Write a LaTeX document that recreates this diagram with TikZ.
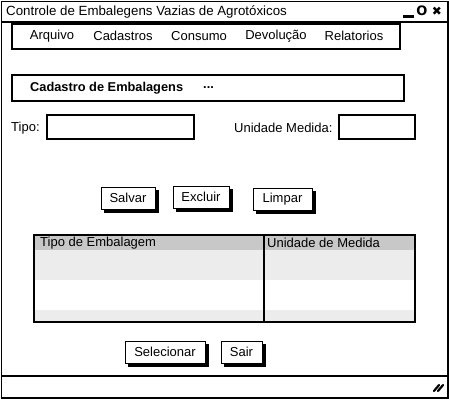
\documentclass[tikz,border=0pt]{standalone}
\usepackage{fontspec}
\setmainfont{Liberation Sans}
\newfontfamily\symfont{DejaVu Sans}
\definecolor{hdr}{HTML}{C8C8C8}
\definecolor{rowg}{HTML}{ECECEC}
\pgfdeclarelayer{winbg}
\pgfdeclarelayer{shadowlayer}
\pgfsetlayers{winbg,shadowlayer,main}
\begin{document}
\begin{tikzpicture}[x=1pt,y=-1pt,
  frame/.style={draw=black,line width=1.2pt},
  field/.style={draw=black,line width=1.2pt,fill=white},
  btn/.style={draw=black,line width=1pt,fill=white,inner sep=0pt,
    font=\fontsize{13}{15}\selectfont,minimum height=22pt},
  shadow/.style={fill=black},
  lbl/.style={inner sep=0pt,anchor=west,font=\fontsize{13}{15}\selectfont},
  menuitem/.style={inner sep=0pt,font=\fontsize{13}{15}\selectfont}]
\useasboundingbox (0,0) rectangle (450,400);
% window
\begin{pgfonlayer}{winbg}
\fill[white] (1.5,1.5) rectangle (448,398);
\end{pgfonlayer}
\draw[frame] (1.5,1.5) rectangle (448,398);
\draw[frame] (1.5,22) -- (448,22);
\node[lbl,font=\fontsize{13.3}{15}\selectfont] (title) at (6,11.5) {Controle de Embalegens Vazias de Agrotóxicos};
% window controls
\draw[line width=2.6pt] (403,16.5) -- (414,16.5);
\node[inner sep=0pt,font=\symfont\bfseries\fontsize{13}{15}\selectfont] (maxi) at (422,11) {O};
\node[inner sep=0pt,font=\symfont\fontsize{12}{15}\selectfont] (closeb) at (437,11) {✖};
% menu bar
\draw[line width=1.6pt,fill=white] (12,24) rectangle (400,49);
\node[menuitem] (m1) at (52,36) {Arquivo};
\node[menuitem] (m2) at (123,36) {Cadastros};
\node[menuitem] (m3) at (199,36) {Consumo};
\node[menuitem] (m4) at (276,36) {Devolução};
\node[menuitem] (m5) at (354,36) {Relatorios};
% Cadastro header box
\draw[line width=1.4pt,fill=white] (12,75) rectangle (404,101);
\node[lbl,font=\bfseries\fontsize{12.8}{15}\selectfont] (cad) at (30,88) {Cadastro de Embalagens};
\node[lbl,font=\bfseries\fontsize{12.8}{15}\selectfont] (dots) at (203,88) {...};
% Tipo
\node[lbl] (tipo) at (11,128) {Tipo:};
\draw[field] (47,115) rectangle (194,139);
\node[lbl] (um) at (234,128) {Unidade Medida:};
\draw[field] (339,115) rectangle (415,139);
% buttons
\node[btn,minimum width=54pt] (salvar) at (128,198) {Salvar};
\node[btn,minimum width=56pt] (excluir) at (201,197) {Excluir};
\node[btn,minimum width=59pt] (limpar) at (282.5,199) {Limpar};
% table
\fill[hdr] (34,235) rectangle (415,250);
\fill[rowg] (34,250) rectangle (415,280);
\fill[white] (34,280) rectangle (415,310);
\fill[rowg] (34,310) rectangle (415,321);
\draw[line width=1.6pt] (34,235) rectangle (415,322);
\draw[line width=1.4pt] (264,235) -- (264,322);
\node[lbl] (th1) at (40,243) {Tipo de Embalagem};
\node[lbl] (th2) at (267,243) {Unidade de Medida};
% bottom buttons
\node[btn,minimum width=80pt] (selecionar) at (165,352) {Selecionar};
\node[btn,minimum width=41pt] (sair) at (241.5,352) {Sair};
% button shadows
\begin{pgfonlayer}{shadowlayer}
\foreach \b in {salvar,excluir,limpar,selecionar,sair}
  \fill[shadow] ([shift={(3.5,3.5)}]\b.south west) rectangle ([shift={(3.5,3.5)}]\b.north east);
\end{pgfonlayer}
% status bar
\draw[frame] (1.5,376) -- (448,376);
\draw[line width=2.2pt,line cap=round] (434,391) -- (439,385);
\draw[line width=2.2pt,line cap=round] (438,391) -- (443,385);
\end{tikzpicture}
\end{document}
